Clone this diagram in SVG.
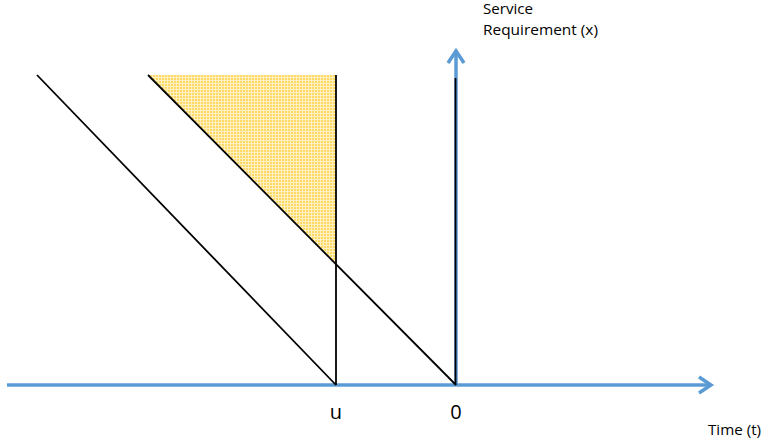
<svg xmlns="http://www.w3.org/2000/svg" width="762" height="446" viewBox="0 0 762 446">
<style>
.axis{stroke:#5B9BD5;stroke-width:3.5;fill:none;stroke-linecap:butt}
.head{stroke:#5B9BD5;stroke-width:3.5;fill:none;stroke-linejoin:miter}
.ln{stroke:#000;stroke-width:1.8;fill:none}
.lbl{font-family:"Open Sans","Liberation Sans",sans-serif;fill:#000}
</style>
<defs>
<pattern id="dots" width="3" height="3" patternUnits="userSpaceOnUse">
<rect width="3" height="3" fill="#FFF0C0"/>
<rect width="2" height="2" fill="#FFD966"/>
</pattern>
</defs>
<g id="region">
<polygon points="148,75 336,75 336,264" fill="url(#dots)"/>
</g>
<g id="axes">
<line class="axis" x1="7" y1="385" x2="711" y2="385"/>
<polyline class="head" points="699,377 711,385 699,393"/>
<line class="axis" x1="456" y1="385" x2="456" y2="50"/>
<polyline class="head" points="448,63 456,51 464,63"/>
</g>
<g id="connectors">
<line class="ln" x1="37" y1="75" x2="336" y2="385"/>
<line class="ln" x1="148" y1="75" x2="456" y2="385"/>
<line class="ln" x1="336" y1="75" x2="336" y2="385"/>
<line class="ln" x1="455.5" y1="78" x2="455.5" y2="385"/>
</g>
<g id="labels">
<text class="lbl" x="483" y="14" font-size="14" textLength="50" lengthAdjust="spacingAndGlyphs">Service</text>
<text class="lbl" x="483" y="35" font-size="14" textLength="115" lengthAdjust="spacingAndGlyphs">Requirement (x)</text>
<text class="lbl" x="336" y="419" font-size="20" text-anchor="middle">u</text>
<text class="lbl" x="456" y="419" font-size="20" text-anchor="middle">0</text>
<text class="lbl" x="708" y="435" font-size="14" textLength="53" lengthAdjust="spacingAndGlyphs">Time (t)</text>
</g>
</svg>
